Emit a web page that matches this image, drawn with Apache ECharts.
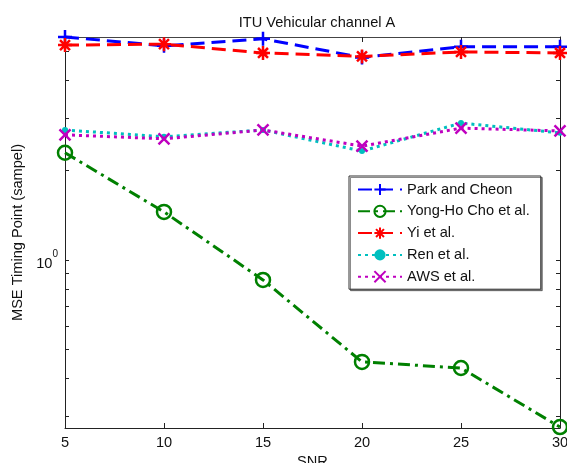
<!DOCTYPE html>
<html>
<head>
<meta charset="utf-8">
<script src="https://cdn.jsdelivr.net/npm/echarts@6/dist/echarts.min.js"></script>
<style>html,body{margin:0;padding:0;background:#fff;overflow:hidden;}#c{width:567px;height:463px;}</style>
</head>
<body>
<div id="c"></div>
<script>
const snr = [5, 10, 15, 20, 25, 30];
const parkCheon = [5.60, 5.23, 5.52, 4.78, 5.19, 5.19];
const yongHoCho = [2.29, 1.45, 0.857, 0.455, 0.434, 0.275];
const yiEtAl = [5.26, 5.30, 4.95, 4.82, 4.99, 4.95];
const renEtAl = [2.73, 2.59, 2.73, 2.32, 2.88, 2.67];
const awsEtAl = [2.63, 2.55, 2.73, 2.41, 2.77, 2.71];
const yTickValues = [0.3, 0.4, 0.5, 0.6, 0.7, 0.8, 0.9, 1, 2, 3, 4, 5];
const yLabelValues = [1];
const yMin = 0.273, yMax = 5.6;
const xTitle = 'SNR';
const yTitle = 'MSE Timing Point (sampel)';
const chartTitle = 'ITU Vehicular channel A';

const FONT = 'Liberation Sans, Arial, Helvetica, sans-serif';
const FS = 14.6;
const pair = arr => snr.map((x, i) => [x, arr[i]]);

const plusPath = 'path://M10,0L10,20M0,10L20,10';
const starPath = 'path://M10,0L10,20M0,10L20,10M2.9,2.9L17.1,17.1M2.9,17.1L17.1,2.9';
const crossPath = 'path://M0,0L20,20M0,20L20,0';

function mk(name, data, color, lineType, symbol, size, bw, fill) {
  return {
    name: name, type: 'line', data: pair(data),
    xAxisIndex: 0, yAxisIndex: 0,
    symbol: symbol, symbolSize: size, showAllSymbol: true,
    clip: false,
    lineStyle: {color: color, width: 3, type: lineType},
    itemStyle: {color: fill || 'rgba(0,0,0,0)', borderColor: color, borderWidth: bw},
    emphasis: {disabled: true},
    animation: false
  };
}

const chart = echarts.init(document.getElementById('c'), null, {renderer: 'canvas'});
const yAxisCommon = {
  type: 'log', min: yMin, max: yMax,
  axisLine: {show: true, onZero: false, lineStyle: {color: '#222', width: 1}},
  axisTick: {show: true, inside: true, length: 4, customValues: yTickValues, lineStyle: {color: '#222'}},
  minorTick: {show: false},
  splitLine: {show: false}
};
chart.setOption({
  animation: false,
  backgroundColor: '#fff',
  title: {
    text: chartTitle, left: 312, top: 10, textAlign: 'center',
    textStyle: {fontFamily: FONT, fontSize: FS, fontWeight: 'normal', color: '#111'}
  },
  grid: {left: 65, right: 7, top: 37, bottom: 35, containLabel: false, outerBoundsMode: 'none'},
  xAxis: [{
    type: 'value', min: 5, max: 30, interval: 5, position: 'bottom',
    name: xTitle, nameLocation: 'middle', nameGap: 25,
    nameTextStyle: {fontFamily: FONT, fontSize: FS, color: '#111'},
    axisLine: {show: true, onZero: false, lineStyle: {color: '#222'}},
    axisTick: {inside: true, length: 5, lineStyle: {color: '#222'}},
    axisLabel: {margin: 7, fontFamily: FONT, fontSize: FS, color: '#111'},
    splitLine: {show: false}
  }, {
    type: 'value', min: 5, max: 30, interval: 5, position: 'top',
    axisLine: {show: true, onZero: false, lineStyle: {color: '#444'}},
    axisTick: {inside: true, length: 5, lineStyle: {color: '#222'}},
    axisLabel: {show: false},
    splitLine: {show: false}
  }],
  yAxis: [Object.assign({}, yAxisCommon, {
    position: 'left',
    name: yTitle, nameLocation: 'middle', nameGap: 40, nameRotate: 90,
    nameTextStyle: {fontFamily: FONT, fontSize: FS, color: '#111'},
    axisLabel: {
      show: true, margin: 7, customValues: yLabelValues,
      formatter: function () { return '{b|10}{s|0}'; },
      rich: {
        b: {fontFamily: FONT, fontSize: FS, color: '#111', lineHeight: 22, verticalAlign: 'bottom'},
        s: {fontFamily: FONT, fontSize: 10, color: '#111', lineHeight: 22, verticalAlign: 'top'}
      }
    }
  }), Object.assign({}, yAxisCommon, {
    position: 'right',
    axisLabel: {show: false}
  })],
  legend: {
    orient: 'vertical', left: 349, top: 176,
    itemWidth: 44, itemHeight: 14, itemGap: 6.8,
    padding: [6, 11, 5, 8],
    backgroundColor: '#fff', borderColor: '#333', borderWidth: 1,
    shadowColor: 'rgba(0,0,0,0.45)', shadowOffsetX: 1.5, shadowOffsetY: 1.5, shadowBlur: 0,
    textStyle: {fontFamily: FONT, fontSize: FS, color: '#111'},
    selectedMode: false,
    data: ['Park and Cheon', 'Yong-Ho Cho et al.', 'Yi et al.', 'Ren et al.', 'AWS et al.']
  },
  series: [
    mk('Park and Cheon', parkCheon, '#0000ff', [14, 7], plusPath, 14, 2.5),
    mk('Yong-Ho Cho et al.', yongHoCho, '#008000', [12, 5, 3, 5], 'circle', 14, 2.5),
    mk('Yi et al.', yiEtAl, '#ff0000', [14, 7], starPath, 14, 2.5),
    mk('Ren et al.', renEtAl, '#00bfbf', [3, 4], 'circle', 6, 0, '#00bfbf'),
    mk('AWS et al.', awsEtAl, '#bf00bf', [3, 4], crossPath, 11, 2.5)
  ]
});
</script>
</body>
</html>
